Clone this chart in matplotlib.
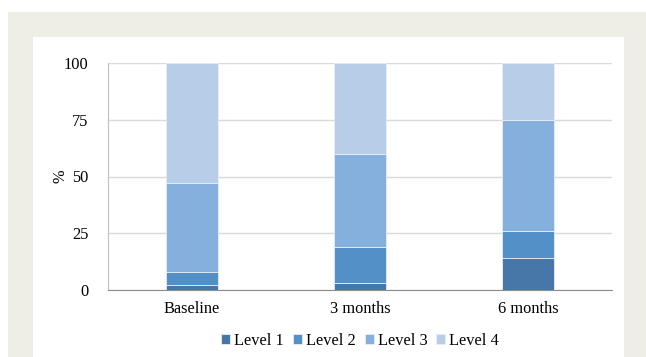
import matplotlib
matplotlib.use("Agg")
import matplotlib.pyplot as plt
from matplotlib.patches import Rectangle
import numpy as np

categories = ["Baseline", "3 months", "6 months"]
level_names = ["Level 1", "Level 2", "Level 3", "Level 4"]
level1 = [2, 3, 14]
level2 = [6, 16, 12]
level3 = [39, 41, 49]
level4 = [53, 40, 25]
series = [level1, level2, level3, level4]
colors = ["#4677A8", "#5490C8", "#85AFDC", "#B8CDE8"]
yticks = [0, 25, 50, 75, 100]

plt.rcParams["font.family"] = ["Liberation Serif", "DejaVu Serif"]
FS = 11.8

fig = plt.figure(figsize=(6.46, 3.57), dpi=100)
W, H = 646, 357
# outer frame and inner white panel
fig.patches.append(Rectangle((8 / W, 0), (646 - 8) / W, (357 - 12) / H,
                             transform=fig.transFigure, facecolor="#EEEEE4",
                             edgecolor="none", zorder=-10))
fig.patches.append(Rectangle((33 / W, 0), (624 - 33) / W, (357 - 37) / H,
                             transform=fig.transFigure, facecolor="white",
                             edgecolor="none", zorder=-9))

ax = fig.add_axes([108 / W, (357 - 290) / H, (612 - 108) / W, (290 - 63) / H])
ax.set_facecolor("none")

x = np.arange(len(categories))
bottom = np.zeros(len(categories))
for name, vals, c in zip(level_names, series, colors):
    ax.bar(x, vals, 0.31, bottom=bottom, color=c, label=name,
           edgecolor="#E8EEF6", linewidth=0.6, zorder=3)
    bottom += np.array(vals)

ax.set_xlim(-0.5, 2.5)
ax.set_ylim(0, 100)
ax.set_yticks(yticks)
ax.set_xticks(x)
ax.set_xticklabels(categories, fontsize=FS)
ax.tick_params(axis="both", length=0, labelsize=FS, colors="black")
ax.tick_params(axis="y", pad=14)
ax.tick_params(axis="x", pad=8)
ax.yaxis.grid(True, color="#D9D9D9", linewidth=1, zorder=0)
ax.set_axisbelow(True)
for s in ["top", "right"]:
    ax.spines[s].set_visible(False)
ax.spines["left"].set_color("#BFBFBF")
ax.spines["bottom"].set_color("#8C8C8C")
ax.set_ylabel("%", fontsize=FS)
ax.yaxis.set_label_coords(-0.078, 0.5)

ax.legend(loc="upper center", bbox_to_anchor=(0.5, -0.125), ncol=4,
          frameon=False, fontsize=FS, handlelength=0.55, handleheight=0.55,
          handletextpad=0.25, columnspacing=0.55)

fig.savefig("out.png", dpi=100)
